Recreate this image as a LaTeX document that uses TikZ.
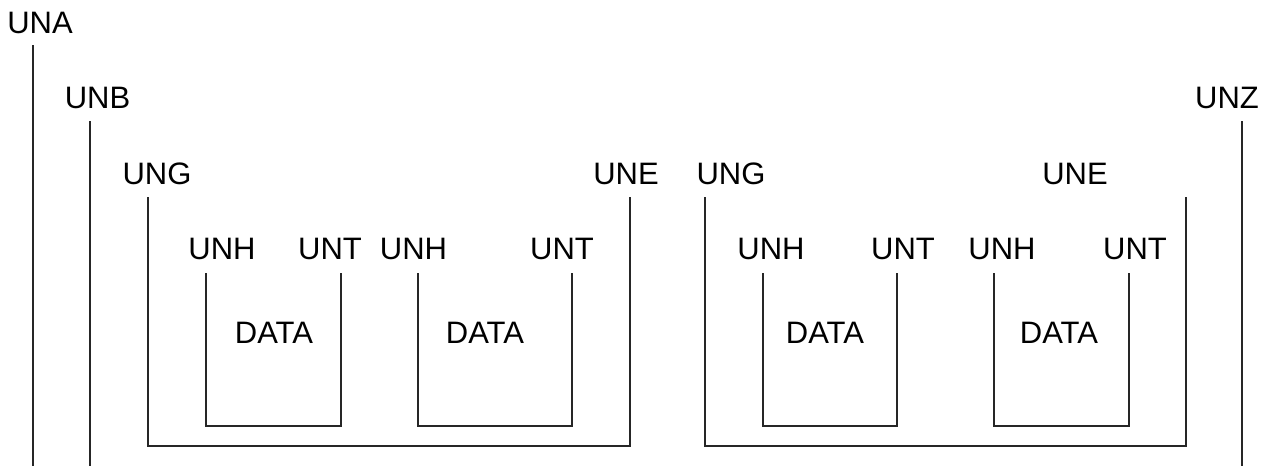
\documentclass[tikz,border=0pt]{standalone}
\usepackage{fontspec}
\setmainfont{Liberation Sans}
\begin{document}
\begin{tikzpicture}[x=1pt,y=-1pt,
  lbl/.style={inner sep=0pt,anchor=base,font=\fontsize{31}{36}\selectfont},
  seg/.style={draw=black!85,line width=1.2pt}]
\useasboundingbox (0,0) rectangle (1267,466);
% labels
\node[lbl] (una) at (40,33) {UNA};
\node[lbl] (unb) at (97.5,108) {UNB};
\node[lbl] (unz) at (1227,108) {UNZ};
\node[lbl] (ung1) at (157,184) {UNG};
\node[lbl] (une1) at (626,184) {UNE};
\node[lbl] (ung2) at (731,184) {UNG};
\node[lbl] (une2) at (1075,184) {UNE};
\node[lbl] (unh1) at (222,259) {UNH};
\node[lbl] (unt1) at (330,259) {UNT};
\node[lbl] (unh2) at (413.5,259) {UNH};
\node[lbl] (unt2) at (562,259) {UNT};
\node[lbl] (unh3) at (771,259) {UNH};
\node[lbl] (unt3) at (903,259) {UNT};
\node[lbl] (unh4) at (1002,259) {UNH};
\node[lbl] (unt4) at (1135,259) {UNT};
\node[lbl] (d1) at (274,343) {DATA};
\node[lbl] (d2) at (485,343) {DATA};
\node[lbl] (d3) at (825,343) {DATA};
\node[lbl] (d4) at (1059,343) {DATA};
% coordinates
\coordinate (a0) at (33,45);   \coordinate (a1) at (33,466);
\coordinate (b0) at (90,121);  \coordinate (b1) at (90,466);
\coordinate (z0) at (1242,121);\coordinate (z1) at (1242,466);
\coordinate (g1t) at (148,197); \coordinate (g1b) at (148,446);
\coordinate (e1t) at (630,197); \coordinate (e1b) at (630,446);
\coordinate (g2t) at (705,197); \coordinate (g2b) at (705,446);
\coordinate (e2t) at (1186,197);\coordinate (e2b) at (1186,446);
\coordinate (h1t) at (206,273); \coordinate (h1b) at (206,426);
\coordinate (t1t) at (341,273); \coordinate (t1b) at (341,426);
\coordinate (h2t) at (418,273); \coordinate (h2b) at (418,426);
\coordinate (t2t) at (572,273); \coordinate (t2b) at (572,426);
\coordinate (h3t) at (763,273); \coordinate (h3b) at (763,426);
\coordinate (t3t) at (897,273); \coordinate (t3b) at (897,426);
\coordinate (h4t) at (994,273); \coordinate (h4b) at (994,426);
\coordinate (t4t) at (1129,273);\coordinate (t4b) at (1129,426);
% lines
\draw[seg] (a0) -- (a1);
\draw[seg] (b0) -- (b1);
\draw[seg] (z0) -- (z1);
\draw[seg] (g1t) -- (g1b) -- (e1b) -- (e1t);
\draw[seg] (g2t) -- (g2b) -- (e2b) -- (e2t);
\draw[seg] (h1t) -- (h1b) -- (t1b) -- (t1t);
\draw[seg] (h2t) -- (h2b) -- (t2b) -- (t2t);
\draw[seg] (h3t) -- (h3b) -- (t3b) -- (t3t);
\draw[seg] (h4t) -- (h4b) -- (t4b) -- (t4t);
\end{tikzpicture}
\end{document}
